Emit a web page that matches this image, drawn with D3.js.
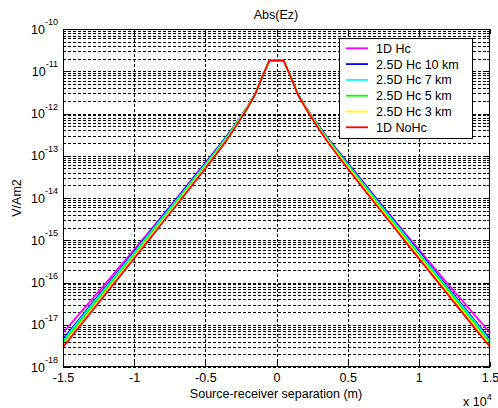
<!DOCTYPE html>
<html><head><meta charset="utf-8">
<script src="https://cdn.jsdelivr.net/npm/d3@7"></script>
<style>
body{margin:0;background:#fff}
text{font-family:"Liberation Sans",Arial,Helvetica,sans-serif;fill:#000}
</style>
</head><body>
<svg id="chart" width="498" height="408"></svg>
<script>
// Source-receiver separation (m)
const xMeters = [-15000,-14000,-13000,-12000,-11000,-10000,-9000,-8000,-7000,-6000,-5000,-4000,-3500,-3000,-2500,-2000,-1500,-1000,-500,
                 500,1000,1500,2000,2500,3000,3500,4000,5000,6000,7000,8000,9000,10000,11000,12000,13000,14000,15000];
// log10 |Ez| (V/Am2)
const log1DHc = [-17.19,-16.80,-16.41,-16.02,-15.62,-15.22,-14.82,-14.41,-14.00,-13.58,-13.17,-12.76,-12.54,-12.31,-12.07,-11.82,-11.54,-11.13,-10.75,
                 -10.75,-11.13,-11.54,-11.82,-12.07,-12.31,-12.54,-12.76,-13.17,-13.58,-14.00,-14.41,-14.82,-15.22,-15.62,-16.02,-16.41,-16.80,-17.19];
const log25D10 = [-17.34,-16.93,-16.51,-16.10,-15.69,-15.27,-14.86,-14.43,-14.02,-13.60,-13.18,-12.76,-12.54,-12.31,-12.07,-11.82,-11.54,-11.13,-10.75,
                  -10.75,-11.13,-11.54,-11.82,-12.07,-12.31,-12.54,-12.76,-13.18,-13.60,-14.02,-14.43,-14.86,-15.27,-15.69,-16.10,-16.51,-16.93,-17.34];
const log25D7 = [-17.38,-16.96,-16.54,-16.13,-15.71,-15.30,-14.88,-14.46,-14.04,-13.62,-13.20,-12.78,-12.56,-12.32,-12.08,-11.83,-11.54,-11.13,-10.75,
                 -10.75,-11.13,-11.54,-11.83,-12.08,-12.32,-12.56,-12.78,-13.20,-13.62,-14.04,-14.46,-14.88,-15.30,-15.71,-16.13,-16.54,-16.96,-17.38];
const log25D5 = [-17.43,-17.01,-16.59,-16.17,-15.76,-15.34,-14.92,-14.50,-14.08,-13.65,-13.23,-12.80,-12.58,-12.34,-12.09,-11.83,-11.54,-11.13,-10.75,
                 -10.75,-11.13,-11.54,-11.83,-12.09,-12.34,-12.58,-12.80,-13.23,-13.65,-14.08,-14.50,-14.92,-15.34,-15.76,-16.17,-16.59,-17.01,-17.43];
const log25D3 = [-17.48,-17.06,-16.64,-16.22,-15.80,-15.38,-14.96,-14.54,-14.12,-13.69,-13.26,-12.83,-12.60,-12.36,-12.10,-11.84,-11.55,-11.13,-10.75,
                 -10.75,-11.13,-11.55,-11.84,-12.10,-12.36,-12.60,-12.83,-13.26,-13.69,-14.12,-14.54,-14.96,-15.38,-15.80,-16.22,-16.64,-17.06,-17.48];
const log1DNoHc = [-17.53,-17.11,-16.69,-16.27,-15.85,-15.43,-15.01,-14.58,-14.16,-13.73,-13.30,-12.86,-12.63,-12.38,-12.12,-11.85,-11.55,-11.13,-10.75,
                   -10.75,-11.13,-11.55,-11.85,-12.12,-12.38,-12.63,-12.86,-13.30,-13.73,-14.16,-14.58,-15.01,-15.43,-15.85,-16.27,-16.69,-17.11,-17.52];

const seriesNames = ["1D Hc","2.5D Hc 10 km","2.5D Hc 7 km","2.5D Hc 5 km","2.5D Hc 3 km","1D NoHc"];
const seriesColors = ["#ff00ff","#0000ff","#00ffff","#00ff00","#ffff00","#ff0000"];
const seriesLogs = [log1DHc,log25D10,log25D7,log25D5,log25D3,log1DNoHc];

const xTicks = [-15000,-10000,-5000,0,5000,10000,15000];
const xTickLabels = ["-1.5","-1","-0.5","0","0.5","1","1.5"];
const yDecades = [-18,-17,-16,-15,-14,-13,-12,-11,-10];

const titleText = "Abs(Ez)";
const xLabelText = "Source-receiver separation (m)";
const yLabelText = "V/Am2";

const L = 63, R = 490, T = 29, B = 367;
const svg = d3.select("#chart");
const x = d3.scaleLinear().domain([-15000,15000]).range([L,R]);
const y = d3.scaleLog().domain([1e-18,1e-10]).range([B,T]);

// grid
const grid = svg.append("g").attr("stroke","#000").attr("stroke-width",1)
  .attr("stroke-dasharray","3,2").attr("shape-rendering","crispEdges");
const gridVals = [];
yDecades.slice(0,-1).forEach(d => { for (let m=1;m<=9;m++) gridVals.push(m*Math.pow(10,d)); });
grid.selectAll("line.h").data(gridVals).join("line").attr("class","h")
  .attr("x1",L).attr("x2",R)
  .attr("y1",d=>Math.round(y(d))+0.5).attr("y2",d=>Math.round(y(d))+0.5);
grid.selectAll("line.v").data(xTicks.slice(1,-1)).join("line").attr("class","v")
  .attr("y1",T).attr("y2",B)
  .attr("x1",d=>Math.round(x(d))+0.5).attr("x2",d=>Math.round(x(d))+0.5);

// series
const line = d3.line().x(d=>x(d[0])).y(d=>y(d[1]));
seriesLogs.forEach((arr,i) => {
  const pts = xMeters.map((xm,j)=>[xm,Math.pow(10,arr[j])]);
  svg.append("path").datum(pts).attr("d",line).attr("fill","none")
    .attr("stroke",seriesColors[i]).attr("stroke-width",1.8).attr("stroke-linejoin","round");
});

// axes with inward ticks
const axB = svg.append("g").attr("transform",`translate(0,${B})`)
  .call(d3.axisBottom(x).tickValues(xTicks).tickSize(-5).tickFormat((d,i)=>xTickLabels[i]).tickPadding(6));
const axT = svg.append("g").attr("transform",`translate(0,${T})`)
  .call(d3.axisTop(x).tickValues(xTicks).tickSize(-5).tickFormat(""));
const yMajor = yDecades.map(d=>Math.pow(10,d));
const minorVals = gridVals.filter((v,i)=>i%9!==0);
const axLm = svg.append("g").attr("transform",`translate(${L},0)`)
  .call(d3.axisLeft(y).tickValues(minorVals).tickSize(-3).tickFormat(""));
const axRm = svg.append("g").attr("transform",`translate(${R},0)`)
  .call(d3.axisRight(y).tickValues(minorVals).tickSize(-3).tickFormat(""));
const axL = svg.append("g").attr("transform",`translate(${L},0)`)
  .call(d3.axisLeft(y).tickValues(yMajor).tickSize(-5).tickFormat(""));
const axR = svg.append("g").attr("transform",`translate(${R},0)`)
  .call(d3.axisRight(y).tickValues(yMajor).tickSize(-5).tickFormat(""));
[axB,axT,axL,axR,axLm,axRm].forEach(g=>{
  g.select(".domain").remove();
  g.selectAll("line").attr("stroke","#000").attr("shape-rendering","crispEdges");
});
axB.selectAll("text").attr("font-size","12.5px").attr("font-family","Liberation Sans, Arial, sans-serif").attr("fill","#000");

// y tick labels 10^n
const yl = svg.append("g");
yDecades.forEach(d=>{
  const t = yl.append("text").attr("x",58).attr("y",y(Math.pow(10,d))+4.5)
    .attr("text-anchor","end").attr("font-size","12.5px");
  t.append("tspan").text("10");
  t.append("tspan").attr("dy",-8.5).attr("font-size","9px").text(String(d));
});

// box
svg.append("rect").attr("x",L+0.5).attr("y",T+0.5).attr("width",R-L-1).attr("height",B-T-1)
  .attr("fill","none").attr("stroke","#000").attr("stroke-width",1);

// title and labels
svg.append("text").attr("x",276).attr("y",19).attr("text-anchor","middle").attr("font-size","12.5px").text(titleText);
svg.append("text").attr("x",276).attr("y",398).attr("text-anchor","middle").attr("font-size","12.5px").text(xLabelText);
svg.append("text").attr("transform","translate(21,198) rotate(-90)").attr("text-anchor","middle").attr("font-size","12.5px").text(yLabelText);
const ex = svg.append("text").attr("x",463).attr("y",406).attr("font-size","12.5px");
ex.append("tspan").text("x 10");
ex.append("tspan").attr("dy",-6).attr("font-size","9px").text("4");

// legend
const lg = svg.append("g");
lg.append("rect").attr("x",339.5).attr("y",38.5).attr("width",133).attr("height",100)
  .attr("fill","#fff").attr("stroke","#000");
seriesNames.forEach((n,i)=>{
  const yy = 48.3 + i*15.8;
  lg.append("line").attr("x1",346).attr("x2",368).attr("y1",yy).attr("y2",yy)
    .attr("stroke",seriesColors[i]).attr("stroke-width",1.8);
  lg.append("text").attr("x",376).attr("y",yy+4.5).attr("font-size","12.5px").text(n);
});
</script>
</body></html>
